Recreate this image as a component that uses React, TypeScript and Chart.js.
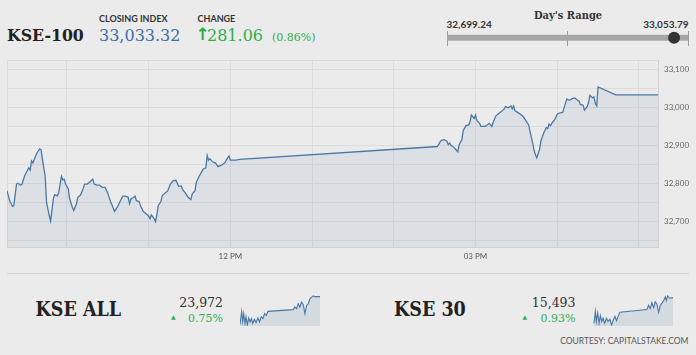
import React, { useEffect, useRef } from 'react';
import { Chart, registerables } from 'chart.js';
Chart.register(...registerables);

// ---- KSE-100 intraday (minutes after 09:00, index value) ----
const kse100Minutes = [
  16, 18, 20, 21, 23, 24, 26, 27, 29, 30, 32, 33, 34, 35, 37, 38, 40, 41, 42, 44, 45, 47, 48, 49, 50, 51, 53, 54, 55, 56, 57, 58, 59,
  61, 62, 64, 65, 67, 68, 70, 72, 73, 75, 77, 79, 80, 82, 84, 86, 88, 90, 92, 94, 95, 97, 99, 101, 103, 105, 106, 107, 109, 110, 111,
  113, 114, 116, 118, 120, 121, 122, 124, 125, 126, 127, 129, 130, 132, 134, 136, 138, 140, 141, 142, 144, 145, 147, 149, 151, 152,
  154, 155, 157, 159, 160, 162, 163, 164, 165, 167, 169, 171, 173, 176, 177, 179, 180, 184, 187,
  332, 334, 335, 337, 339, 340, 341, 342, 344, 346, 347, 348, 350, 351, 353, 355, 356, 357, 359, 360, 361, 363, 364, 367, 368, 370,
  372, 373, 375, 377, 379, 381, 382, 384, 386, 387, 388, 389, 391, 393, 395, 397, 399, 400, 402, 403, 404, 405, 407, 408, 410, 412,
  413, 414, 415, 417, 418, 420, 422, 424, 425, 427, 429, 431, 433, 435, 436, 437, 439, 440, 442, 443, 444, 446, 447, 448, 449, 450,
  463, 494,
];
const kse100Values = [
  32780, 32754, 32739, 32741, 32798, 32800, 32795, 32798, 32820, 32827, 32841, 32835, 32859, 32854, 32872, 32880, 32891, 32889, 32863,
  32820, 32750, 32715, 32700, 32728, 32759, 32770, 32767, 32776, 32798, 32818, 32809, 32811, 32798,
  32785, 32759, 32737, 32728, 32746, 32763, 32769, 32787, 32798, 32798, 32804, 32811, 32798, 32795, 32795, 32789, 32789, 32774, 32752,
  32735, 32726, 32737, 32752, 32766, 32766, 32763, 32746, 32759, 32763, 32766, 32754,
  32752, 32741, 32726, 32720, 32714, 32707, 32717, 32707, 32699, 32715, 32741, 32752, 32767, 32774, 32780, 32798, 32807, 32808, 32800,
  32792, 32793, 32783, 32774, 32763, 32757, 32772,
  32780, 32802, 32818, 32830, 32837, 32841, 32873, 32861, 32865, 32856, 32854, 32844, 32847, 32854, 32861, 32872, 32861, 32861, 32863,
  32897, 32909, 32913, 32915, 32911, 32902, 32906, 32900, 32895, 32887, 32883, 32902, 32915, 32939, 32952, 32954, 32963, 32980, 32971,
  32980, 32965, 32958, 32950, 32950, 32952, 32958,
  32950, 32961, 32978, 32984, 32989, 32996, 33002, 32999, 33004, 32996, 33004, 32991, 32987, 32982, 32976, 32965, 32954, 32937, 32906,
  32887, 32876, 32867, 32889, 32911, 32932, 32947,
  32944, 32956, 32952, 32963, 32967, 32982, 32986, 32987, 32999, 33022, 33019, 33023, 33025, 33019, 33017, 33008, 33006, 32993, 33002,
  33013, 33032, 33025, 33028, 33010, 33004, 33054,
  33033, 33033,
];

const sessionStart = 16; // 09:16
const sessionEnd = 494; // 17:14
const hourTicks = [60, 120, 180, 240, 300, 360, 420, 480];
const hourLabels: Record<number, string> = { 180: '12 PM', 360: '03 PM' };
const yMin = 32632;
const yMax = 33123;
const yGridValues = [32650, 32700, 32750, 32800, 32850, 32900, 32950, 33000, 33050, 33100];

const closingIndex = 33033.32;
const changePoints = 281.06;
const changePct = 0.86;
const dayLow = 32699.24;
const dayHigh = 33053.79;

// ---- KSE ALL sparkline ----
const kseAllMinutes = [16, 26, 32, 38, 46, 52, 60, 68, 76, 84, 92, 102, 112, 123, 133, 143, 153, 163, 173, 183, 334, 344, 354, 364, 374, 384, 394, 404, 414, 424, 434, 444, 454, 464, 494];
const kseAllValues = [23794, 23878, 23811, 23864, 23801, 23843, 23790, 23836, 23811, 23832, 23801, 23828, 23807, 23836, 23811, 23843, 23832, 23864, 23853, 23878, 23889, 23906, 23895, 23927, 23906, 23937, 23920, 23864, 23916, 23927, 23958, 23969, 23977, 23972, 23972];
const kseAllClose = 23972;
const kseAllPct = 0.75;

// ---- KSE 30 sparkline ----
const kse30Minutes = [22, 30, 36, 44, 52, 60, 68, 76, 86, 96, 106, 117, 127, 137, 147, 157, 167, 177, 338, 348, 358, 368, 378, 388, 398, 408, 418, 428, 438, 448, 454, 462, 474, 494];
const kse30Values = [15363, 15424, 15372, 15416, 15363, 15401, 15372, 15389, 15363, 15389, 15372, 15384, 15354, 15380, 15398, 15377, 15401, 15419, 15433, 15454, 15437, 15468, 15442, 15472, 15460, 15419, 15454, 15465, 15477, 15497, 15479, 15502, 15490, 15493];
const kse30Close = 15493;
const kse30Pct = 0.93;

const BG = '#ebebeb';
const LINE = '#4a78a6';
const GREEN = '#2fae4a';
const fmt = (v: number, d = 0) => v.toLocaleString('en-US', { minimumFractionDigits: d, maximumFractionDigits: d });

function MainChart() {
  const ref = useRef<HTMLCanvasElement>(null);
  useEffect(() => {
    const chart = new Chart(ref.current!, {
      type: 'line',
      data: {
        datasets: [{
          data: kse100Minutes.map((m, i) => ({ x: m, y: kse100Values[i] })),
          borderColor: LINE, borderWidth: 1.3, backgroundColor: 'rgba(74,120,166,0.09)',
          fill: 'start', pointRadius: 0, tension: 0,
        }],
      },
      options: {
        animation: false, responsive: false, maintainAspectRatio: false,
        plugins: { legend: { display: false }, tooltip: { enabled: false } },
        layout: { autoPadding: false, padding: { left: 7, top: 8, right: 0, bottom: 0 } },
        scales: {
          x: {
            type: 'linear', min: sessionStart, max: sessionEnd,
            afterBuildTicks: (s: any) => { s.ticks = [sessionStart, ...hourTicks, sessionEnd].map((v) => ({ value: v })); },
            afterFit: (s: any) => { s.height = 23; },
            grid: { color: '#dcdcdc', drawTicks: false },
            border: { color: '#d2d2d2' },
            ticks: { autoSkip: false, maxRotation: 0, padding: 5, color: '#555', font: { family: 'Lato', size: 8 }, callback: (v: any) => hourLabels[v] ?? '' },
          },
          y: {
            position: 'right', min: yMin, max: yMax,
            afterBuildTicks: (s: any) => { s.ticks = [yMin, ...yGridValues, yMax].map((v) => ({ value: v })); },
            afterFit: (s: any) => { s.width = 38; },
            grid: { color: '#dcdcdc', drawTicks: false },
            border: { color: '#d2d2d2' },
            ticks: { padding: 6, color: '#666', font: { family: 'Lato', size: 8 }, callback: (v: any) => (v % 100 === 0 ? fmt(v) : '') },
          },
        },
      } as any,
    });
    return () => chart.destroy();
  }, []);
  return <canvas ref={ref} width={696} height={220} style={{ position: 'absolute', left: 0, top: 50, width: 696, height: 220 }} />;
}

function RangeGauge() {
  const ref = useRef<HTMLCanvasElement>(null);
  useEffect(() => {
    const chart = new Chart(ref.current!, {
      type: 'line',
      data: {
        datasets: [
          { data: [{ x: closingIndex, y: 0 }], showLine: false, pointRadius: 6, pointBackgroundColor: '#333', pointBorderWidth: 0, clip: false, order: 0 },
          { data: [{ x: dayLow, y: 0 }, { x: dayHigh, y: 0 }], borderColor: '#a6a6a6', borderWidth: 6, borderCapStyle: 'butt', pointRadius: 0, fill: false, order: 1 },
        ],
      },
      options: {
        animation: false, responsive: false, maintainAspectRatio: false,
        plugins: { legend: { display: false }, tooltip: { enabled: false } },
        layout: { autoPadding: false, padding: { left: 7, right: 8, top: 0, bottom: 0 } },
        scales: {
          x: {
            type: 'linear', min: dayLow, max: dayHigh,
            afterBuildTicks: (s: any) => { s.ticks = [dayLow, (dayLow + dayHigh) / 2, dayHigh].map((v) => ({ value: v })); },
            afterFit: (s: any) => { s.height = 0; },
            grid: { color: '#9a9a9a', drawTicks: false },
            border: { display: false },
            ticks: { display: false },
          },
          y: { type: 'linear', min: -1.2, max: 1, display: false },
        },
      } as any,
    });
    return () => chart.destroy();
  }, []);
  return <canvas ref={ref} width={256} height={15} style={{ position: 'absolute', left: 440, top: 31, width: 256, height: 15 }} />;
}

function Spark({ minutes, values, left, top }: { minutes: number[]; values: number[]; left: number; top: number }) {
  const ref = useRef<HTMLCanvasElement>(null);
  useEffect(() => {
    const lo = Math.min(...values);
    const hi = Math.max(...values);
    const chart = new Chart(ref.current!, {
      type: 'line',
      data: {
        datasets: [{
          data: minutes.map((m, i) => ({ x: m, y: values[i] })),
          borderColor: LINE, borderWidth: 1.1, backgroundColor: 'rgba(74,120,166,0.14)',
          fill: 'start', pointRadius: 0, tension: 0,
        }],
      },
      options: {
        animation: false, responsive: false, maintainAspectRatio: false,
        plugins: { legend: { display: false }, tooltip: { enabled: false } },
        layout: { autoPadding: false, padding: 0 },
        scales: {
          x: { type: 'linear', min: sessionStart, max: sessionEnd, display: false },
          y: { type: 'linear', min: lo - (hi - lo) * 0.03, max: hi + (hi - lo) * 0.03, display: false },
        },
      } as any,
    });
    return () => chart.destroy();
  }, []);
  return <canvas ref={ref} width={80} height={31} style={{ position: 'absolute', left, top, width: 80, height: 31 }} />;
}

const serif = "'DejaVu Serif', serif";
const serifCond = "'DejaVu Serif Condensed', 'DejaVu Serif', serif";
const sans = "Lato, 'Open Sans', sans-serif";

function T(props: { children: React.ReactNode; style: React.CSSProperties }) {
  return <div style={{ position: 'absolute', lineHeight: 1, whiteSpace: 'nowrap', ...props.style }}>{props.children}</div>;
}

export default function App() {
  return (
    <div style={{ position: 'fixed', left: 0, top: 0, width: 696, height: 355, background: BG, overflow: 'hidden' }}>
      {/* header */}
      <T style={{ left: 7, top: 27, fontFamily: serifCond, fontStretch: 'condensed', fontWeight: 700, fontSize: 17.5, color: '#222' }}>KSE-100</T>
      <T style={{ left: 99, top: 13.5, fontFamily: sans, fontWeight: 700, fontSize: 9, color: '#333' }}>CLOSING INDEX</T>
      <T style={{ left: 99, top: 27.5, fontFamily: serif, fontSize: 16, color: '#3a6da6' }}>{fmt(closingIndex, 2)}</T>
      <T style={{ left: 197.5, top: 13.5, fontFamily: sans, fontWeight: 700, fontSize: 9, color: '#333' }}>CHANGE</T>
      <T style={{ left: 195.5, top: 26, fontFamily: "'DejaVu Sans', sans-serif", fontSize: 17, fontWeight: 700, color: GREEN }}>↑</T>
      <T style={{ left: 207, top: 27.5, fontFamily: serif, fontSize: 16, color: GREEN }}>{fmt(changePoints, 2)}</T>
      <T style={{ left: 272, top: 32, fontFamily: serif, fontSize: 11, color: GREEN }}>({changePct.toFixed(2)}%)</T>

      <T style={{ left: 534, top: 9.5, fontFamily: serifCond, fontStretch: 'condensed', fontWeight: 700, fontSize: 11, color: '#333' }}>Day's Range</T>
      <T style={{ left: 446.5, top: 19, fontFamily: sans, fontWeight: 700, fontSize: 10, color: '#333' }}>{fmt(dayLow, 2)}</T>
      <T style={{ right: 696 - 688.5, top: 19, fontFamily: sans, fontWeight: 700, fontSize: 10, color: '#333', textAlign: 'right' }}>{fmt(dayHigh, 2)}</T>
      <RangeGauge />

      <MainChart />
      <div style={{ position: 'absolute', left: 7, top: 273, width: 682, height: 1, background: '#d2d2d2' }} />

      {/* bottom panel */}
      <T style={{ left: 35.5, top: 299.5, fontFamily: serifCond, fontStretch: 'condensed', fontWeight: 700, fontSize: 19.5, color: '#222' }}>KSE ALL</T>
      <T style={{ right: 696 - 223, top: 297, fontFamily: serif, fontSize: 12.5, color: '#333' }}>{fmt(kseAllClose)}</T>
      <T style={{ left: 171, top: 313.5, fontFamily: "'DejaVu Sans', sans-serif", fontSize: 6, color: GREEN }}>▲</T>
      <T style={{ right: 696 - 223, top: 313, fontFamily: serif, fontSize: 11, color: GREEN }}>{kseAllPct.toFixed(2)}%</T>
      <Spark minutes={kseAllMinutes} values={kseAllValues} left={240} top={295} />

      <T style={{ left: 394, top: 299.5, fontFamily: serifCond, fontStretch: 'condensed', fontWeight: 700, fontSize: 19.5, color: '#222' }}>KSE 30</T>
      <T style={{ right: 696 - 575.5, top: 297, fontFamily: serif, fontSize: 12.5, color: '#333' }}>{fmt(kse30Close)}</T>
      <T style={{ left: 522.5, top: 313.5, fontFamily: "'DejaVu Sans', sans-serif", fontSize: 6, color: GREEN }}>▲</T>
      <T style={{ right: 696 - 575.5, top: 313, fontFamily: serif, fontSize: 11, color: GREEN }}>{kse30Pct.toFixed(2)}%</T>
      <Spark minutes={kse30Minutes} values={kse30Values} left={593} top={295} />

      <T style={{ right: 696 - 688.5, top: 337, fontFamily: sans, fontSize: 8.5, color: '#555', textAlign: 'right' }}>COURTESY: CAPITALSTAKE.COM</T>
    </div>
  );
}
